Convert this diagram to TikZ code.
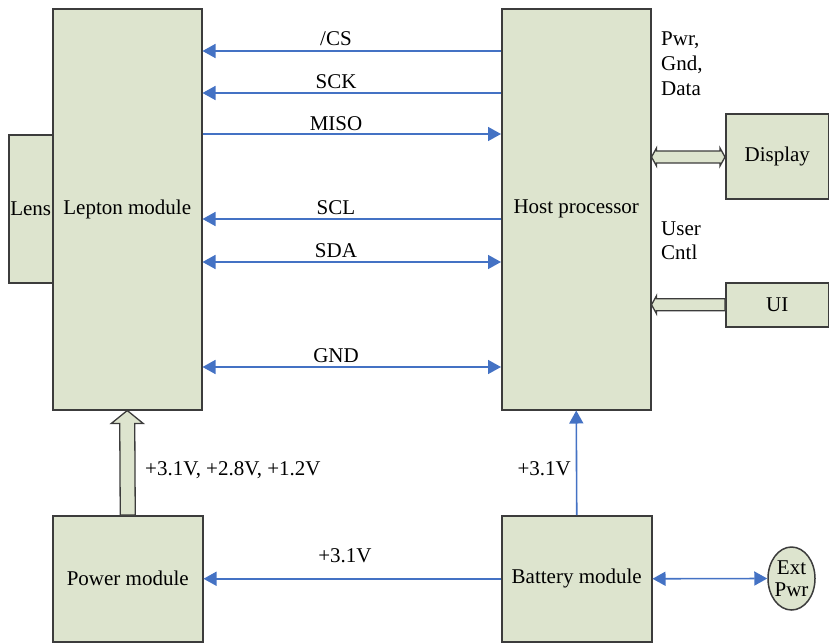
\documentclass[tikz,border=0pt]{standalone}
\usepackage{fontspec}
\setmainfont{Liberation Serif}
\usetikzlibrary{arrows.meta,calc,shapes.geometric}
\definecolor{boxfill}{RGB}{221,228,206}
\definecolor{boxline}{RGB}{60,60,60}
\definecolor{sigblue}{RGB}{68,114,196}
\tikzset{
  blk/.style={draw=boxline,fill=boxfill,line width=1.5pt,inner sep=0pt,anchor=north west,
    font=\fontsize{21}{24}\selectfont},
  sig/.style={draw=sigblue,line width=1.6pt},
  tip/.style={-{Triangle[length=13pt,width=14pt]}},
  both/.style={{Triangle[length=13pt,width=14pt]}-{Triangle[length=13pt,width=14pt]}},
  lbl/.style={font=\fontsize{21}{24}\selectfont,inner sep=0pt,anchor=base},
  hollow/.style={draw=boxline,fill=boxfill,line width=1.3pt,line join=miter},
}
\begin{document}
\begin{tikzpicture}[x=1pt,y=-1pt]
\useasboundingbox (0,0) rectangle (829,643);
% boxes
\node[blk,minimum width=44pt,minimum height=148pt] (lens) at (8,134) {Lens};
\node[blk,minimum width=149pt,minimum height=401pt] (lep) at (52,8) {Lepton module};
\node[blk,minimum width=149pt,minimum height=401pt] (host) at (501,8) {Host processor};
\node[blk,minimum width=103pt,minimum height=85pt] (disp) at (725,113) {Display};
\node[blk,minimum width=103pt,minimum height=44pt] (ui) at (725,282) {UI};
\node[blk,minimum width=150pt,minimum height=126pt] (pow) at (52,515) {Power module};
\node[blk,minimum width=150pt,minimum height=126pt] (bat) at (501,515) {Battery module};
\node[draw=boxline,fill=boxfill,line width=1.5pt,ellipse,minimum width=47pt,minimum height=63pt,inner sep=0pt] (ext) at (791.5,578.5) {};
\node[font=\fontsize{21}{22}\selectfont,align=center,inner sep=0pt] (extt) at (ext.center) {Ext\\Pwr};
% signal rows
\coordinate (ycs) at (0,51);
\coordinate (ysck) at (0,93);
\coordinate (ymiso) at (0,134);
\coordinate (yscl) at (0,219);
\coordinate (ysda) at (0,262);
\coordinate (ygnd) at (0,367);
\draw[sig,tip] (host.west |- ycs) -- (lep.east |- ycs);
\draw[sig,tip] (host.west |- ysck) -- (lep.east |- ysck);
\draw[sig,tip] (lep.east |- ymiso) -- (host.west |- ymiso);
\draw[sig,tip] (host.west |- yscl) -- (lep.east |- yscl);
\draw[sig,both] (lep.east |- ysda) -- (host.west |- ysda);
\draw[sig,both] (lep.east |- ygnd) -- (host.west |- ygnd);
\node[lbl] (lcs) at (336,45.5) {/CS};
\node[lbl] (lsck) at (336,88) {SCK};
\node[lbl] (lmiso) at (336,130) {MISO};
\node[lbl] (lscl) at (336,214) {SCL};
\node[lbl] (lsda) at (336,257) {SDA};
\node[lbl] (lgnd) at (336,362) {GND};
% display / ui connectors
\coordinate (ydisp) at (0,157);
\coordinate (A) at (host.east |- ydisp);
\coordinate (B) at (disp.west |- ydisp);
\draw[hollow] (A) -- ($(A)+(5,-9)$) -- ($(A)+(5,-6)$) -- ($(B)+(-5,-6)$) -- ($(B)+(-5,-9)$) -- (B)
  -- ($(B)+(-5,9)$) -- ($(B)+(-5,6)$) -- ($(A)+(5,6)$) -- ($(A)+(5,9)$) -- cycle;
\coordinate (C) at (host.east |- ui.west);
\draw[hollow] (C) -- ($(C)+(5,-9)$) -- ($(C)+(5,-6)$) -- ($(ui.west)+(0,-6)$) -- ($(ui.west)+(0,6)$)
  -- ($(C)+(5,6)$) -- ($(C)+(5,9)$) -- cycle;
\node[font=\fontsize{21}{25}\selectfont,align=left,inner sep=0pt,anchor=base west] (lpgd) at (661,95) {Pwr,\\Gnd,\\Data};
\node[font=\fontsize{21}{24}\selectfont,align=left,inner sep=0pt,anchor=base west] (luc) at (661,259) {User\\Cntl};
% power arrow
\draw[hollow] ($(pow.north)+(-7.5,0)$) -- ($(lep.south)+(-7.5,13)$) -- ($(lep.south)+(-16,13)$) -- (lep.south)
  -- ($(lep.south)+(16,13)$) -- ($(lep.south)+(7.5,13)$) -- ($(pow.north)+(7.5,0)$) -- cycle;
\node[lbl,anchor=base west] (lvolt) at (145,475) {+3.1V, +2.8V, +1.2V};
% battery connectors
\draw[sig,tip] (bat.north) -- (host.south);
\node[lbl,anchor=base east] (lb1) at (571,475) {+3.1V};
\draw[sig,tip] (bat.west) -- (pow.east);
\node[lbl] (lb2) at (345,562) {+3.1V};
\draw[sig,both] (bat.east) -- (ext.west);
\end{tikzpicture}
\end{document}
